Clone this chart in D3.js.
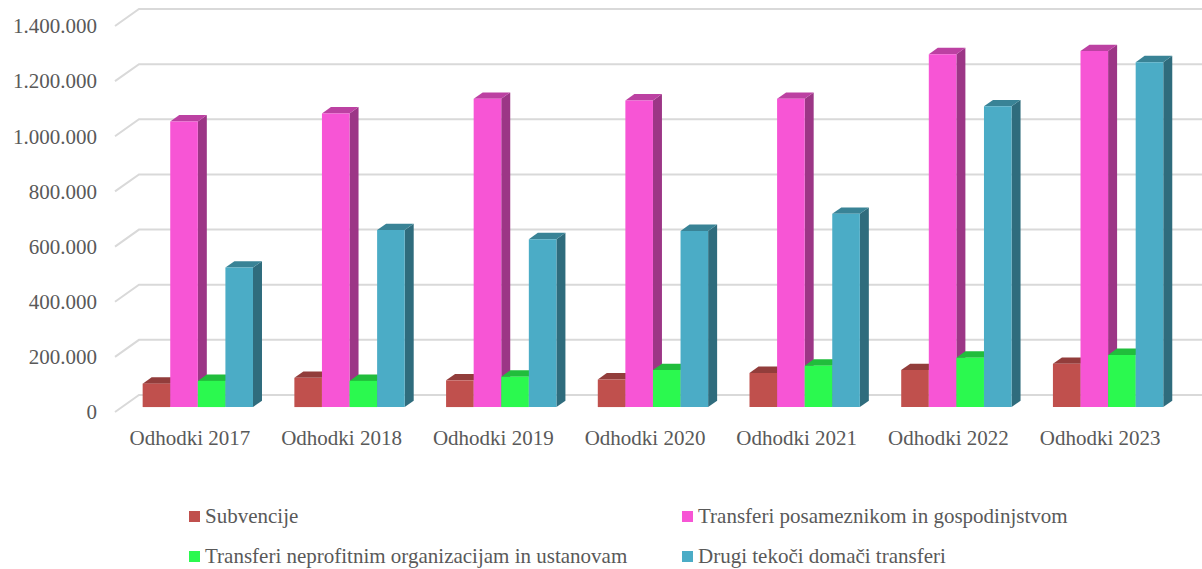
<!DOCTYPE html>
<html>
<head>
<meta charset="utf-8">
<script src="https://cdn.jsdelivr.net/npm/d3@7"></script>
<style>
  html, body { margin: 0; padding: 0; background: #ffffff; }
  svg { display: block; }
</style>
</head>
<body>
<svg id="chart" width="1202" height="569" font-family="'Liberation Serif', 'DejaVu Serif', serif"></svg>
<script>
// ---- data ----
const categories = ["Odhodki 2017", "Odhodki 2018", "Odhodki 2019", "Odhodki 2020", "Odhodki 2021", "Odhodki 2022", "Odhodki 2023"];
const seriesNames = ["Subvencije", "Transferi posameznikom in gospodinjstvom", "Transferi neprofitnim organizacijam in ustanovam", "Drugi tekoči domači transferi"];
const subvencije = [85000, 106000, 97000, 100000, 124000, 134000, 157000];
const transferiPosameznikom = [1036000, 1065000, 1118000, 1112000, 1118000, 1280000, 1291000];
const transferiNeprofitnim = [95000, 95000, 110000, 134000, 150000, 179000, 189000];
const drugiTransferi = [506000, 642000, 609000, 639000, 701000, 1091000, 1251000];
const yTicks = [0, 200000, 400000, 600000, 800000, 1000000, 1200000, 1400000];
const yTickLabels = ["0", "200.000", "400.000", "600.000", "800.000", "1.000.000", "1.200.000", "1.400.000"];
const seriesColors = ["#C0504D", "#F755D5", "#2BF94F", "#4BACC6"];

const seriesValues = [subvencije, transferiPosameznikom, transferiNeprofitnim, drugiTransferi];

// ---- layout ----
const FONT = "Liberation Serif, DejaVu Serif, serif";
const TXT = "#595959";
const svg = d3.select("#chart");
const depthDX = 24, depthDY = -17;         // full floor depth offset (oblique projection)
const barD0 = 0.29, barD1 = 0.665;        // bar front/back depth fraction

const x0 = d3.scaleBand().domain(categories).range([115, 1177])
  .paddingInner(0.2727).paddingOuter(0.1364);
const x1 = d3.scaleBand().domain(seriesNames).range([0, x0.bandwidth()]);
const y = d3.scaleLinear().domain([0, 1400000]).range([412, 26]);

function P(x, v, d) { return [x + depthDX * d, y(v) + depthDY * d]; }

// ---- gridlines (side wall + back wall) ----
const gGrid = svg.append("g");
yTicks.forEach(v => {
  const a = P(115, v, 0), b = P(115, v, 1);
  gGrid.append("path")
    .attr("d", `M${a[0]},${a[1]}L${b[0]},${b[1]}L${1202},${b[1]}`)
    .attr("fill", "none").attr("stroke", "#d9d9d9").attr("stroke-width", 2);
});

// ---- y labels ----
svg.append("g").selectAll("text").data(yTicks).join("text")
  .attr("x", 97).attr("y", d => y(d))
  .attr("dy", "0.35em")
  .attr("text-anchor", "end")
  .attr("font-family", FONT).attr("fill", TXT)
  .attr("font-size", 21)
  .text((d, i) => yTickLabels[i]);

// ---- bars ----
const gBars = svg.append("g");
function shade(c, k) { const r = d3.rgb(c); return d3.rgb(r.r * k, r.g * k, r.b * k).formatHex(); }
function poly(pts) { return "M" + pts.map(p => p.join(",")).join("L") + "Z"; }

categories.forEach((cat, ci) => {
  seriesNames.forEach((s, si) => {
    const v = seriesValues[si][ci];
    const xl = x0(cat) + x1(s), xr = xl + x1.bandwidth();
    const col = seriesColors[si];
    // side face
    gBars.append("path").attr("d", poly([P(xr, 0, barD0), P(xr, 0, barD1), P(xr, v, barD1), P(xr, v, barD0)]))
      .attr("fill", shade(col, 0.63));
    // top face
    gBars.append("path").attr("d", poly([P(xl, v, barD0), P(xr, v, barD0), P(xr, v, barD1), P(xl, v, barD1)]))
      .attr("fill", shade(col, 0.76));
    // front face
    gBars.append("path").attr("d", poly([P(xl, 0, barD0), P(xr, 0, barD0), P(xr, v, barD0), P(xl, v, barD0)]))
      .attr("fill", col);
  });
});

// ---- category labels ----
svg.append("g").selectAll("text").data(categories).join("text")
  .attr("x", d => x0(d) + x0.bandwidth() / 2 - 1)
  .attr("y", 445)
  .attr("text-anchor", "middle")
  .attr("font-family", FONT).attr("fill", TXT)
  .attr("font-size", 21)
  .text(d => d);

// ---- legend ----
const legendPos = [[189, 523], [682, 523], [189, 563], [682, 563]];
const gLeg = svg.append("g");
seriesNames.forEach((s, i) => {
  const [lx, ly] = legendPos[i];
  gLeg.append("rect").attr("x", lx).attr("y", ly - 12).attr("width", 11).attr("height", 11).attr("fill", seriesColors[i]);
  gLeg.append("text").attr("x", lx + 16).attr("y", ly)
    .attr("font-family", FONT).attr("fill", TXT)
    .attr("font-size", 21).text(s);
});
</script>
</body>
</html>
